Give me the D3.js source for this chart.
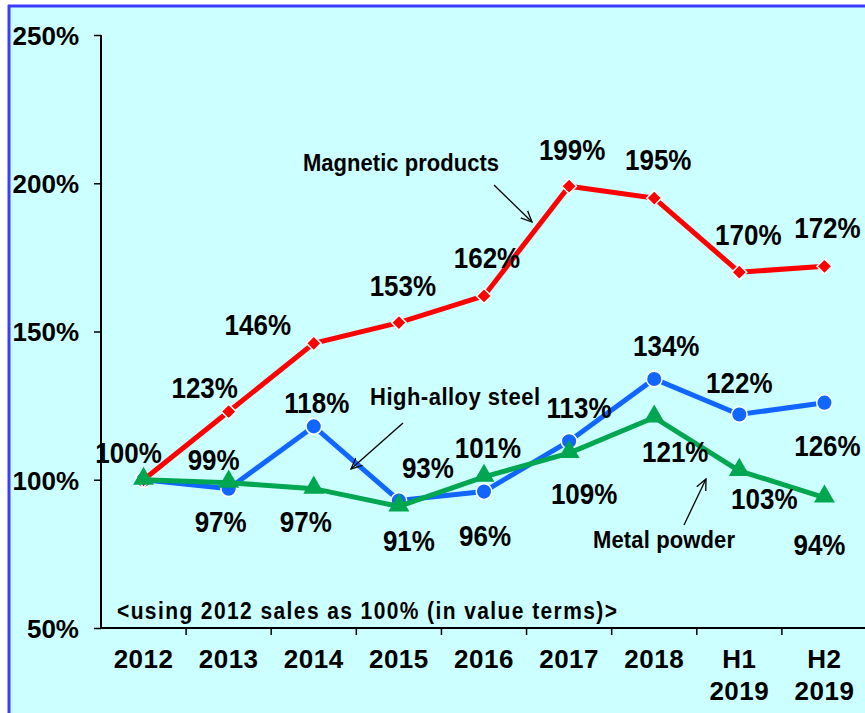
<!DOCTYPE html>
<html>
<head>
<meta charset="utf-8">
<script src="https://cdn.jsdelivr.net/npm/d3@7"></script>
<style>
  html, body { margin: 0; padding: 0; background: #ffffff; }
  svg { display: block; }
  text { font-family: "Liberation Sans", Arial, sans-serif; font-weight: bold; fill: #000; }
</style>
</head>
<body>
<svg id="chart" width="865" height="713"></svg>
<script>
// Category labels (second line used for the half-year periods)
const categories = ["2012", "2013", "2014", "2015", "2016", "2017", "2018", "H1 2019", "H2 2019"];
const categoryLines = [["2012"], ["2013"], ["2014"], ["2015"], ["2016"], ["2017"], ["2018"], ["H1", "2019"], ["H2", "2019"]];

// Sales indices, 2012 = 100%
const magneticProducts = [100, 123, 146, 153, 162, 199, 195, 170, 172];
const highAlloySteel   = [100, 97, 118, 93, 96, 113, 134, 122, 126];
const metalPowder      = [100, 99, 97, 91, 101, 109, 121, 103, 94];

const yTicks = [50, 100, 150, 200, 250];

// Label offsets relative to each point (dx, dy to text baseline); null = no label
const magneticLabelOffsets = [null, [-24, -14], [-56, -8], [4, -27], [3, -28], [3, -26], [4, -28], [9, -27], [3, -28]];
const steelLabelOffsets    = [[-15, -17], [-8, 43], [3, -13], [29, -23], [1, 54], [10, -23], [12, -23], [0, -22], [3, 53]];
const powderLabelOffsets   = [null, [-15, -13], [-8, 43], [10, 45], [4, -19], [15, 51], [21, 45], [25, 38], [-5, 57]];

const svg = d3.select("#chart");

// Plot background and frame
svg.append("rect").attr("x", 8).attr("y", 5).attr("width", 900).attr("height", 750)
  .attr("fill", "#ccffff");
svg.append("line").attr("x1", 8).attr("y1", 6).attr("x2", 865).attr("y2", 6)
  .attr("stroke", "#3c3cff").attr("stroke-width", 3);
svg.append("line").attr("x1", 9).attr("y1", 5).attr("x2", 9).attr("y2", 713)
  .attr("stroke", "#3c3cff").attr("stroke-width", 3);

const x = d3.scaleBand().domain(categories).range([101, 867]).paddingInner(0).paddingOuter(0);
const y = d3.scaleLinear().domain([50, 250]).range([628, 35]);
const cx = c => x(c) + x.bandwidth() / 2;

// Y axis
const yAxis = svg.append("g").attr("transform", "translate(101,0)")
  .call(d3.axisLeft(y).tickValues(yTicks).tickSize(7).tickFormat(d => d + "%"));
yAxis.select(".domain").attr("stroke", "#000").attr("stroke-width", 2).attr("d", `M0,${y(250)}V${y(50)}`);
yAxis.selectAll(".tick line").attr("stroke", "#000").attr("stroke-width", 1.5);
yAxis.selectAll(".tick text").attr("x", -22).attr("dy", "0.36em")
  .style("font-size", "26px").style("font-family", "'Liberation Sans', Arial, sans-serif").style("font-weight", "bold");

// X axis
const xAxis = svg.append("g").attr("transform", `translate(0,${y(50)})`)
  .call(d3.axisBottom(x).tickSize(0).tickFormat(""));
xAxis.select(".domain").attr("stroke", "#000").attr("stroke-width", 2).attr("d", "M101,0H867");
xAxis.selectAll(".boundary").data(categories.slice(1)).enter().append("line")
  .attr("x1", d => x(d)).attr("x2", d => x(d)).attr("y1", 0).attr("y2", 7)
  .attr("stroke", "#000").attr("stroke-width", 1.5);

const catLabels = svg.append("g").selectAll("text").data(categories).enter().append("text")
  .attr("text-anchor", "middle").style("font-size", "26px").style("letter-spacing", "0.5px");
catLabels.each(function (d, i) {
  const t = d3.select(this);
  categoryLines[i].forEach((line, j) => {
    t.append("tspan").attr("x", cx(d)).attr("y", 668 + j * 32).text(line);
  });
});

const line = d3.line().x((d, i) => cx(categories[i])).y(d => y(d));

function drawLine(values, color) {
  svg.append("path").datum(values).attr("d", line)
    .attr("fill", "none").attr("stroke", color).attr("stroke-width", 5).attr("stroke-linejoin", "miter");
}

const steelColor = "#1166ff", magneticColor = "#ff0000", powderColor = "#00a650";

drawLine(highAlloySteel, steelColor);
svg.append("g").selectAll("circle").data(highAlloySteel).enter().append("circle")
  .attr("cx", (d, i) => cx(categories[i])).attr("cy", d => y(d)).attr("r", 7.8)
  .attr("fill", steelColor).attr("stroke", "#fff").attr("stroke-width", 1.5);

drawLine(magneticProducts, magneticColor);
svg.append("g").selectAll("path").data(magneticProducts).enter().append("path")
  .attr("d", d3.symbol(d3.symbolDiamond2, 140))
  .attr("transform", (d, i) => `translate(${cx(categories[i])},${y(d)})`)
  .attr("fill", magneticColor).attr("stroke", "#fff").attr("stroke-width", 1.5);

drawLine(metalPowder, powderColor);
svg.append("g").selectAll("path").data(metalPowder).enter().append("path")
  .attr("d", d3.symbol(d3.symbolTriangle, 190))
  .attr("transform", (d, i) => `translate(${cx(categories[i])},${y(d) - 1})`)
  .attr("fill", powderColor);

// Value labels
function drawLabels(values, offsets) {
  svg.append("g").selectAll("text").data(values.map((v, i) => ({ v, i, o: offsets[i] })).filter(d => d.o))
    .enter().append("text")
    .attr("text-anchor", "middle")
    .attr("transform", d => `translate(${cx(categories[d.i]) + d.o[0]},${y(d.v) + d.o[1]}) scale(1,1.15)`)
    .style("font-size", "26px")
    .text(d => d.v + "%");
}
drawLabels(magneticProducts, magneticLabelOffsets);
drawLabels(highAlloySteel, steelLabelOffsets);
drawLabels(metalPowder, powderLabelOffsets);

// Series names with pointer arrows
const defs = svg.append("defs");
defs.append("marker").attr("id", "arrow").attr("viewBox", "0 0 12 12").attr("refX", 11).attr("refY", 6)
  .attr("markerWidth", 12).attr("markerHeight", 12).attr("markerUnits", "userSpaceOnUse").attr("orient", "auto")
  .append("path").attr("d", "M0,1 L11,6 L0,11").attr("fill", "none").attr("stroke", "#000").attr("stroke-width", 1.3);

const seriesNames = ["Magnetic products", "High-alloy steel", "Metal powder"];
const namePositions = [[303, 171], [370, 405], [593, 548]];
const nameWidths = [196, 170, 142];
const arrowPaths = [[[494, 185], [532, 222]], [[403, 423], [351, 469]], [[684, 525], [706, 479]]];

seriesNames.forEach((name, i) => {
  svg.append("text").attr("transform", `translate(${namePositions[i][0]},${namePositions[i][1]}) scale(1,1.1)`)
    .attr("textLength", nameWidths[i]).attr("lengthAdjust", "spacing")
    .style("font-size", "22px").text(name);
  svg.append("line")
    .attr("x1", arrowPaths[i][0][0]).attr("y1", arrowPaths[i][0][1])
    .attr("x2", arrowPaths[i][1][0]).attr("y2", arrowPaths[i][1][1])
    .attr("stroke", "#000").attr("stroke-width", 1.3).attr("marker-end", "url(#arrow)");
});

// Note on the base year
svg.append("text").attr("transform", "translate(117,619) scale(1,1.1)")
  .attr("textLength", 500).attr("lengthAdjust", "spacing")
  .style("font-size", "21px").text("<using 2012 sales as 100% (in value terms)>");
</script>
</body>
</html>
